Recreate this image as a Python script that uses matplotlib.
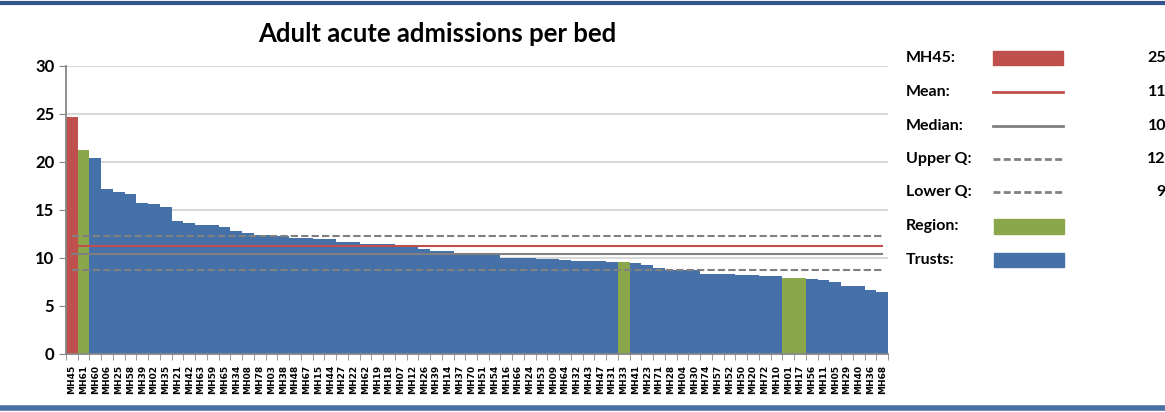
import numpy as np
import matplotlib
matplotlib.use("Agg")
import matplotlib.pyplot as plt
from matplotlib.patches import Rectangle

plt.rcParams['font.family'] = ['Lato', 'DejaVu Sans']

# trust codes, sorted by admissions per bed (descending)
trusts = ['MH45', 'MH61', 'MH60', 'MH06', 'MH25', 'MH58', 'MH39', 'MH02', 'MH35', 'MH21',
          'MH42', 'MH63', 'MH59', 'MH65', 'MH34', 'MH08', 'MH78', 'MH03', 'MH38', 'MH48',
          'MH67', 'MH15', 'MH44', 'MH27', 'MH22', 'MH62', 'MH19', 'MH18', 'MH07', 'MH12',
          'MH26', 'MH39', 'MH14', 'MH37', 'MH70', 'MH51', 'MH54', 'MH16', 'MH66', 'MH24',
          'MH53', 'MH09', 'MH64', 'MH32', 'MH43', 'MH47', 'MH31', 'MH33', 'MH41', 'MH23',
          'MH71', 'MH28', 'MH04', 'MH30', 'MH74', 'MH57', 'MH52', 'MH50', 'MH20', 'MH72',
          'MH10', 'MH01', 'MH17', 'MH56', 'MH11', 'MH05', 'MH29', 'MH40', 'MH36', 'MH68']
values = [24.7, 21.2, 20.4, 17.2, 16.9, 16.7, 15.7, 15.6, 15.3, 13.85,
          13.6, 13.4, 13.4, 13.2, 12.85, 12.6, 12.4, 12.35, 12.3, 12.1,
          12.05, 12.0, 12.0, 11.7, 11.7, 11.45, 11.45, 11.45, 11.3, 11.1,
          10.95, 10.75, 10.75, 10.4, 10.4, 10.4, 10.4, 10.05, 10.05, 10.0,
          9.9, 9.9, 9.8, 9.7, 9.7, 9.65, 9.6, 9.6, 9.5, 9.27,
          9.0, 8.75, 8.75, 8.75, 8.35, 8.33, 8.3, 8.25, 8.2, 8.15,
          8.1, 7.9, 7.9, 7.85, 7.7, 7.55, 7.1, 7.1, 6.65, 6.5]
# bars that belong to the region
region_idx = [1, 47, 61, 62]

mean_v = 11.25
median_v = 10.4
upper_q = 12.3
lower_q = 8.7

RED = '#C0504D'
GREEN = '#8AA84B'
BLUE = '#4671A8'
GRAY = '#808080'
DASH = (0, (3.5, 1.5))

colors = []
for i, t in enumerate(trusts):
    if i == 0:
        colors.append(RED)
    elif i in region_idx:
        colors.append(GREEN)
    else:
        colors.append(BLUE)

fig = plt.figure(figsize=(11.65, 4.12), dpi=100)
ax = fig.add_axes([66/1165, 1-354/412, (888-66)/1165, (354-66)/412])

x = np.arange(len(values))
ax.bar(x, values, width=1.0, color=colors, zorder=2)

n = len(values) - 1
ax.plot([0, n], [upper_q]*2, color=GRAY, lw=1.5, ls=DASH, zorder=3)
ax.plot([0, n], [mean_v]*2, color=RED, lw=1.5, zorder=3)
ax.plot([0, n], [median_v]*2, color=GRAY, lw=1.5, zorder=3)
ax.plot([0, n], [lower_q]*2, color=GRAY, lw=1.5, ls=DASH, zorder=3)

ax.set_xlim(-0.5, n + 0.5)
ax.set_ylim(0, 30)
ax.set_yticks(range(0, 31, 5))
ax.yaxis.grid(True, color='#D9D9D9', lw=1.5, zorder=0)
ax.set_axisbelow(True)
for s in ['top', 'right']:
    ax.spines[s].set_visible(False)
for s in ['left', 'bottom']:
    ax.spines[s].set_color('#868686')
    ax.spines[s].set_linewidth(1.3)

ax.set_xticks(x)
ax.set_xticklabels(trusts, rotation=90, fontsize=6.5, fontweight='bold', family='DejaVu Sans')
ax.set_xticks(np.arange(-0.5, n + 1, 1), minor=True)
ax.tick_params(axis='x', which='major', length=0, pad=8)
ax.tick_params(axis='x', which='minor', length=4, color='#868686')
ax.tick_params(axis='y', length=5, color='#868686', labelsize=12)
for lab in ax.get_yticklabels():
    lab.set_fontweight('bold')

fig.text(437/1165, 1-34/412, 'Adult acute admissions per bed', ha='center', va='center',
         fontsize=18.5, fontweight='bold')

# custom legend on the right, in pixel coordinates
lax = fig.add_axes([0, 0, 1, 1])
lax.set_xlim(0, 1165)
lax.set_ylim(412, 0)
lax.axis('off')
leg_labels = ['MH45:', 'Mean:', 'Median:', 'Upper Q:', 'Lower Q:', 'Region:', 'Trusts:']
leg_values = [values[0], mean_v, median_v, upper_q, lower_q, None, None]
rows_y = [58, 92, 126, 159, 192, 226, 260]
for lab, val, yy in zip(leg_labels, leg_values, rows_y):
    lax.text(906, yy, lab, ha='left', va='center', fontsize=11.5, fontweight='bold')
    if val is not None:
        lax.text(1166, yy, '%d' % round(val), ha='right', va='center', fontsize=11.5, fontweight='bold')
lax.add_patch(Rectangle((993, rows_y[0]-7), 70, 14, color=RED))
lax.plot([993, 1063], [rows_y[1]]*2, color=RED, lw=2)
lax.plot([993, 1063], [rows_y[2]]*2, color=GRAY, lw=2)
lax.plot([993, 1063], [rows_y[3]]*2, color=GRAY, lw=2, ls=(0, (2.5, 1.2)))
lax.plot([993, 1063], [rows_y[4]]*2, color=GRAY, lw=2, ls=(0, (2.5, 1.2)))
lax.add_patch(Rectangle((994, rows_y[5]-7), 70, 15, color=GREEN))
lax.add_patch(Rectangle((994, rows_y[6]-7), 70, 14, color=BLUE))

# frame lines top and bottom
lax.plot([0, 1165], [3, 3], color='#34558B', lw=3)
lax.plot([0, 1165], [408, 408], color='#4A6FA5', lw=4)

fig.savefig('out.png', dpi=100)
